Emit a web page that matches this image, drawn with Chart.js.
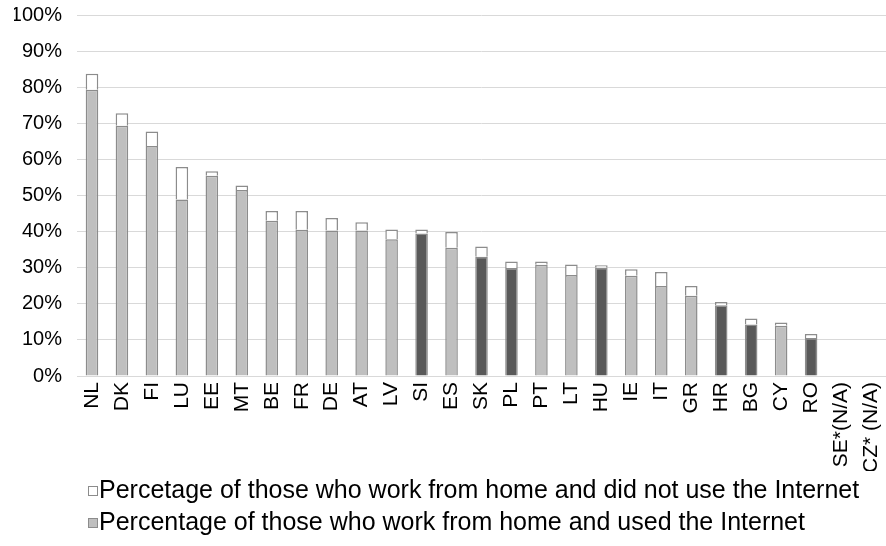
<!DOCTYPE html>
<html>
<head>
<meta charset="utf-8">
<script src="https://cdn.jsdelivr.net/npm/chart.js@4.4.0/dist/chart.umd.min.js"></script>
<style>
  html, body { margin: 0; padding: 0; background: #fff; }
  #wrap { width: 886px; height: 546px; }
</style>
</head>
<body>
<div id="wrap"><canvas id="chart" width="886" height="546"></canvas></div>
<script>
// Data
const countries = ['NL', 'DK', 'FI', 'LU', 'EE', 'MT', 'BE', 'FR', 'DE', 'AT', 'LV', 'SI', 'ES', 'SK',
  'PL', 'PT', 'LT', 'HU', 'IE', 'IT', 'GR', 'HR', 'BG', 'CY', 'RO', 'SE*(N/A)', 'CZ* (N/A)'];
const usedInternet = [79.3, 69.3, 63.7, 48.9, 55.5, 51.5, 43.0, 40.5, 40.3, 40.3, 37.9, 39.5, 35.5, 33.0,
  29.9, 30.8, 28.0, 30.0, 27.8, 24.9, 22.2, 19.6, 14.3, 13.9, 10.5, null, null];
const noInternet = [4.4, 3.5, 4.0, 9.0, 1.2, 1.3, 2.7, 5.2, 3.5, 2.3, 2.7, 1.1, 4.4, 2.9,
  1.8, 0.9, 2.9, 0.7, 1.8, 3.9, 2.7, 0.9, 1.6, 0.9, 1.1, null, null];
const darkCountries = ['SI', 'SK', 'PL', 'HU', 'HR', 'BG', 'RO'];
const yTicks = [0, 10, 20, 30, 40, 50, 60, 70, 80, 90, 100];

const FONT = "'Liberation Sans', Arial, sans-serif";
const LIGHT = '#bfbfbf';
const DARK = '#595959';
const EDGE = '#8c8c8c';

// Legend drawn by hand so the box sits right next to the text
const bottomLegend = {
  id: 'bottomLegend',
  afterDraw(chart) {
    const ctx = chart.ctx;
    const items = chart.data.datasets.slice().reverse();
    ctx.save();
    ctx.font = '25px ' + FONT;
    ctx.textBaseline = 'middle';
    items.forEach((ds, i) => {
      const y = chart.height - 55 + i * 32;
      ctx.fillStyle = ds.legendColor;
      ctx.fillRect(88.5, y - 4.5, 9, 9);
      ctx.strokeStyle = EDGE;
      ctx.lineWidth = 1;
      ctx.strokeRect(88.5, y - 4.5, 9, 9);
      ctx.fillStyle = '#000';
      ctx.fillText(ds.label, 99, y);
    });
    ctx.restore();
  }
};

new Chart(document.getElementById('chart'), {
  type: 'bar',
  data: {
    labels: countries,
    datasets: [
      {
        label: 'Percentage of those who work from home and used the Internet',
        data: usedInternet,
        legendColor: LIGHT,
        backgroundColor: ctx => darkCountries.includes(countries[ctx.dataIndex]) ? DARK : LIGHT,
        borderColor: EDGE,
        borderWidth: 1.5,
        barPercentage: 0.42,
        categoryPercentage: 1
      },
      {
        label: 'Percetage of those who work from home and did not use the Internet',
        data: noInternet,
        legendColor: '#ffffff',
        backgroundColor: '#ffffff',
        borderColor: EDGE,
        borderWidth: 1.5,
        barPercentage: 0.42,
        categoryPercentage: 1
      }
    ]
  },
  options: {
    responsive: false,
    animation: false,
    devicePixelRatio: 1,
    layout: { padding: { top: 15, left: 14, right: 0, bottom: 75 } },
    plugins: {
      legend: { display: false },
      tooltip: { enabled: false }
    },
    scales: {
      x: {
        stacked: true,
        grid: { display: false, drawTicks: false },
        border: { display: true, color: '#d9d9d9' },
        ticks: {
          color: '#000',
          font: { family: FONT, size: 21 },
          minRotation: 90,
          maxRotation: 90,
          autoSkip: false,
          padding: 6
        },
        afterFit: s => { s.height = 95; s.paddingLeft = 0; s.paddingRight = 0; }
      },
      y: {
        stacked: true,
        min: 0,
        max: 100,
        afterBuildTicks: axis => { axis.ticks = yTicks.map(v => ({ value: v })); },
        grid: { color: '#d9d9d9', lineWidth: 1, drawTicks: false },
        border: { display: false },
        ticks: {
          color: '#000',
          font: { family: FONT, size: 20 },
          padding: 15,
          callback: v => v + '%'
        },
        afterFit: s => { s.width = 63; s.paddingTop = 0; s.paddingBottom = 0; }
      }
    }
  },
  plugins: [bottomLegend]
});
</script>
</body>
</html>
